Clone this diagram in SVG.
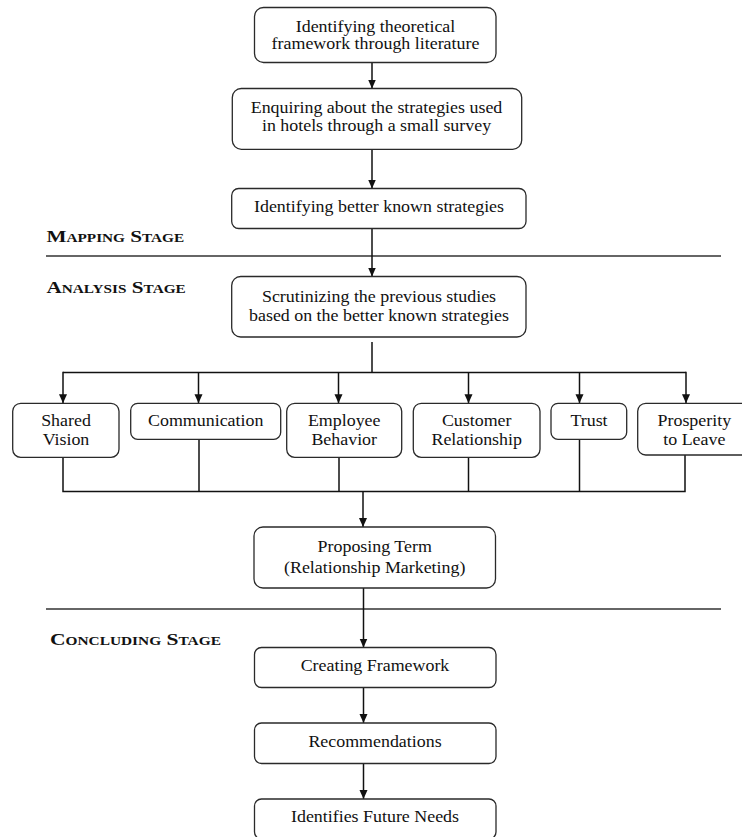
<svg xmlns="http://www.w3.org/2000/svg" width="742" height="837" viewBox="0 0 742 837">
<style>
.box{fill:#fff;stroke:#2a2a2a;stroke-width:1.3}
.t{font-family:"Liberation Serif","Times New Roman",serif;font-size:16px;fill:#111;text-anchor:middle}
.stage{font-family:"Liberation Serif","Times New Roman",serif;font-size:17.5px;font-weight:bold;font-variant:small-caps;fill:#111}
.c{stroke:#111;stroke-width:1.5;fill:none}
.sep{stroke:#333;stroke-width:1.3}
</style>
<defs>
<marker id="ah" markerWidth="10" markerHeight="10" refX="9" refY="4.5" orient="auto" markerUnits="userSpaceOnUse">
<path d="M0,0.5 L9,4.5 L0,8.5 Z" fill="#111"/>
</marker>
</defs>
<rect width="742" height="837" fill="#fff"/>

<g id="stages">
<text class="stage" transform="translate(46.5 0) scale(1.21 1)" x="0" y="241.7">Mapping Stage</text>
<line class="sep" x1="46" y1="256" x2="721" y2="256"/>
<text class="stage" transform="translate(46.5 0) scale(1.21 1)" x="0" y="293.5">Analysis Stage</text>
<line class="sep" x1="46" y1="609" x2="721" y2="609"/>
<text class="stage" transform="translate(50 0) scale(1.23 1)" x="0" y="645">Concluding Stage</text>
</g>

<g id="connectors">
<line class="c" x1="372" y1="63" x2="372" y2="88.5" marker-end="url(#ah)"/>
<line class="c" x1="372" y1="146" x2="372" y2="188.5" marker-end="url(#ah)"/>
<line class="c" x1="372" y1="229" x2="372" y2="276.5" marker-end="url(#ah)"/>
<line class="c" x1="372" y1="342" x2="372" y2="372.5"/>
<path class="c" d="M63,372.5 H686"/>
<line class="c" x1="63" y1="371.8" x2="63" y2="403.3" marker-end="url(#ah)"/>
<line class="c" x1="198.5" y1="372.5" x2="198.5" y2="403.3" marker-end="url(#ah)"/>
<line class="c" x1="338.5" y1="372.5" x2="338.5" y2="403.3" marker-end="url(#ah)"/>
<line class="c" x1="468.5" y1="372.5" x2="468.5" y2="403.3" marker-end="url(#ah)"/>
<line class="c" x1="579.5" y1="372.5" x2="579.5" y2="403.3" marker-end="url(#ah)"/>
<line class="c" x1="686" y1="371.8" x2="686" y2="403.3" marker-end="url(#ah)"/>
<path class="c" d="M63,457.5 V491.5 H685 V455"/>
<line class="c" x1="199" y1="439.5" x2="199" y2="491.5"/>
<line class="c" x1="339" y1="457.5" x2="339" y2="491.5"/>
<line class="c" x1="468.5" y1="457.5" x2="468.5" y2="491.5"/>
<line class="c" x1="579.5" y1="439.5" x2="579.5" y2="491.5"/>
<line class="c" x1="363" y1="491.5" x2="363" y2="527" marker-end="url(#ah)"/>
<line class="c" x1="363.5" y1="588" x2="363.5" y2="647.5" marker-end="url(#ah)"/>
<line class="c" x1="363.5" y1="688" x2="363.5" y2="723" marker-end="url(#ah)"/>
<line class="c" x1="363.5" y1="763.5" x2="363.5" y2="799" marker-end="url(#ah)"/>
</g>

<g id="n1">
<rect class="box" x="254.5" y="7.5" width="241.5" height="55" rx="9"/>
<text class="t" transform="translate(375.5 0) scale(1.12 1)" x="0" y="31.7">Identifying theoretical</text>
<text class="t" transform="translate(375.5 0) scale(1.12 1)" x="0" y="49.5">framework through literature</text>
</g>
<g id="n2">
<rect class="box" x="232.3" y="88.5" width="289.4" height="60.8" rx="9"/>
<text class="t" transform="translate(376.5 0) scale(1.12 1)" x="0" y="113.3">Enquiring about the strategies used</text>
<text class="t" transform="translate(376.5 0) scale(1.12 1)" x="0" y="131">in hotels through a small survey</text>
</g>
<g id="n3">
<rect class="box" x="231.7" y="188.5" width="294.3" height="40" rx="7"/>
<text class="t" transform="translate(379 0) scale(1.12 1)" x="0" y="211.7">Identifying better known strategies</text>
</g>
<g id="n4">
<rect class="box" x="231.7" y="276.5" width="294.3" height="60.5" rx="9"/>
<text class="t" transform="translate(379 0) scale(1.12 1)" x="0" y="302">Scrutinizing the previous studies</text>
<text class="t" transform="translate(379 0) scale(1.12 1)" x="0" y="321.5">based on the better known strategies</text>
</g>
<g id="n5">
<rect class="box" x="12.7" y="403.3" width="106.3" height="54" rx="8"/>
<text class="t" transform="translate(66 0) scale(1.12 1)" x="0" y="425.8">Shared</text>
<text class="t" transform="translate(66 0) scale(1.12 1)" x="0" y="445">Vision</text>
</g>
<g id="n6">
<rect class="box" x="130.7" y="403.3" width="150" height="36" rx="7"/>
<text class="t" transform="translate(205.7 0) scale(1.12 1)" x="0" y="425.8">Communication</text>
</g>
<g id="n7">
<rect class="box" x="286.7" y="403.3" width="115" height="54" rx="8"/>
<text class="t" transform="translate(344.2 0) scale(1.12 1)" x="0" y="425.8">Employee</text>
<text class="t" transform="translate(344.2 0) scale(1.12 1)" x="0" y="445">Behavior</text>
</g>
<g id="n8">
<rect class="box" x="413.3" y="403.3" width="126.7" height="54" rx="8"/>
<text class="t" transform="translate(476.7 0) scale(1.12 1)" x="0" y="425.8">Customer</text>
<text class="t" transform="translate(476.7 0) scale(1.12 1)" x="0" y="445">Relationship</text>
</g>
<g id="n9">
<rect class="box" x="551" y="403.3" width="75.7" height="36" rx="7"/>
<text class="t" transform="translate(589 0) scale(1.12 1)" x="0" y="425.8">Trust</text>
</g>
<g id="n10">
<rect class="box" x="637.7" y="403.3" width="113" height="51.7" rx="8"/>
<text class="t" transform="translate(694.3 0) scale(1.12 1)" x="0" y="425.8">Prosperity</text>
<text class="t" transform="translate(694.3 0) scale(1.12 1)" x="0" y="445">to Leave</text>
</g>
<g id="n11">
<rect class="box" x="254" y="527" width="241.5" height="61" rx="9"/>
<text class="t" transform="translate(374.7 0) scale(1.12 1)" x="0" y="551.7">Proposing Term</text>
<text class="t" transform="translate(374.7 0) scale(1.12 1)" x="0" y="573">(Relationship Marketing)</text>
</g>
<g id="n12">
<rect class="box" x="254.5" y="647.5" width="241.5" height="40" rx="7"/>
<text class="t" transform="translate(375 0) scale(1.12 1)" x="0" y="670.7">Creating Framework</text>
</g>
<g id="n13">
<rect class="box" x="254.5" y="723" width="241.5" height="40.5" rx="7"/>
<text class="t" transform="translate(375 0) scale(1.12 1)" x="0" y="746.7">Recommendations</text>
</g>
<g id="n14">
<rect class="box" x="254.5" y="799" width="241.5" height="40" rx="7"/>
<text class="t" transform="translate(375 0) scale(1.12 1)" x="0" y="821.7">Identifies Future Needs</text>
</g>
</svg>
